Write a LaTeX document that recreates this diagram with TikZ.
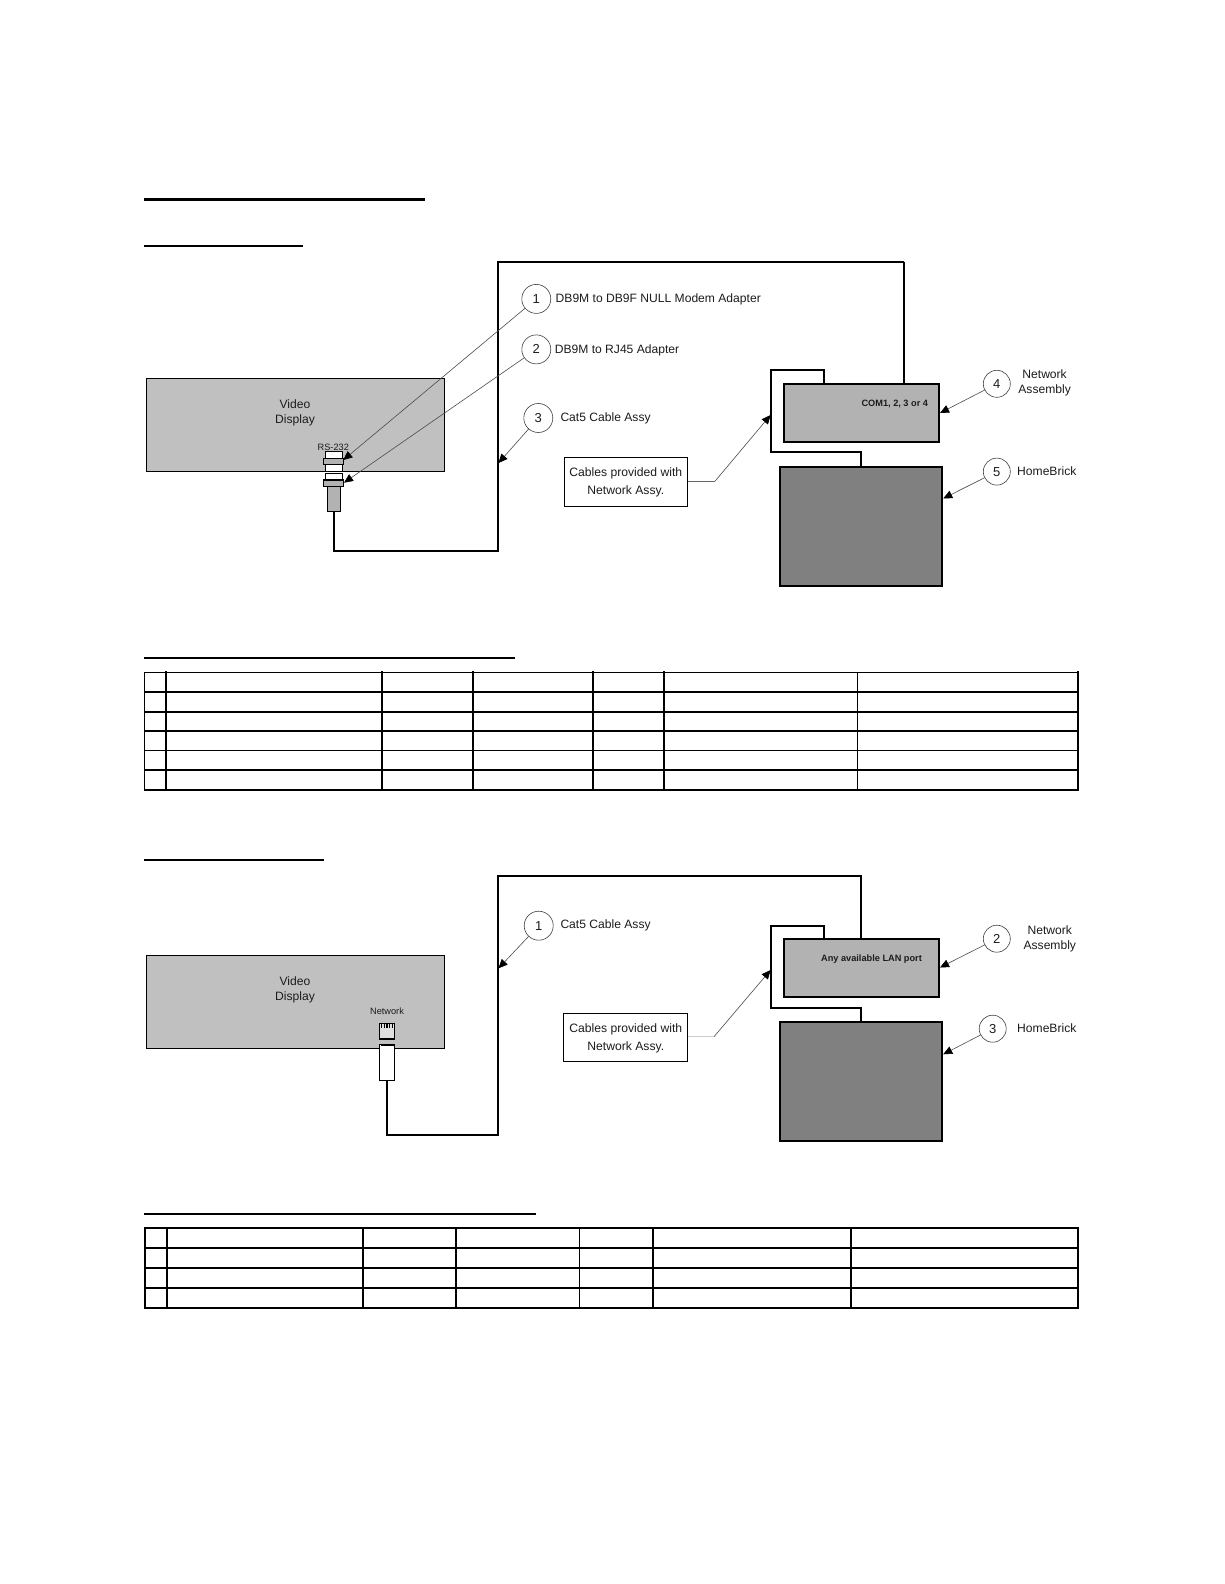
\documentclass[tikz,border=0pt]{standalone}
\usepackage{fontspec}
\setmainfont{Liberation Sans}
\usetikzlibrary{arrows.meta}
\definecolor{dispgray}{HTML}{C0C0C0}
\definecolor{netgray}{HTML}{B2B2B2}
\definecolor{brickgray}{HTML}{808080}
\definecolor{inkc}{HTML}{1C1C1C}
\tikzset{
  x=1pt,y=-1pt,
  rulestyle/.style={line width=#1,black},
  cable/.style={line width=2pt,black,line join=miter},
  thincable/.style={line width=1.2pt,black},
  display/.style={draw=black,line width=1.2pt,fill=dispgray,inner sep=0,outer sep=0},
  netbox/.style={draw=black,line width=2pt,fill=netgray,inner sep=0,outer sep=0},
  brick/.style={draw=black,line width=2pt,fill=brickgray,inner sep=0,outer sep=0},
  note/.style={draw=black,line width=1pt,fill=white,inner sep=0,outer sep=0},
  callout/.style={circle,draw=black!75,line width=.6pt,fill=white,minimum size=29pt,inner sep=0,outer sep=0,font=\fontsize{13}{15}\selectfont,text=inkc},
  lab/.style={font=\fontsize{12.1}{15}\selectfont,text=inkc,inner sep=0,align=center},
  lableft/.style={lab,anchor=west},
  small/.style={font=\fontsize{9.2}{11}\selectfont,text=inkc,inner sep=0},
  smallb/.style={font=\fontsize{9.2}{11}\bfseries\selectfont,text=inkc,inner sep=0},
  leader/.style={line width=.6pt,black!70,-{Triangle[length=9pt,width=8pt,color=black]}},
  part/.style={draw=black,line width=1.2pt,inner sep=0,outer sep=0},
  tabline/.style={line width=#1,black,line cap=rect},
}
\begin{document}
\begin{tikzpicture}
\useasboundingbox[fill=white] (0,0) rectangle (1224,1584);

% heading rules
\coordinate (r1a) at (143.5,199.5); \coordinate (r1b) at (425,199.5);
\coordinate (r2a) at (143.5,245.5); \coordinate (r2b) at (303,245.5);
\coordinate (r3a) at (144,658); \coordinate (r3b) at (515,658);
\coordinate (r4a) at (144,860); \coordinate (r4b) at (324,860);
\coordinate (r5a) at (144,1214); \coordinate (r5b) at (536,1214);
\draw[rulestyle=3pt] (r1a) -- (r1b);
\draw[rulestyle=2pt] (r2a) -- (r2b);
\draw[rulestyle=2pt] (r3a) -- (r3b);
\draw[rulestyle=2pt] (r4a) -- (r4b);
\draw[rulestyle=2pt] (r5a) -- (r5b);

%%% Diagram 1
\node[display,minimum width=297.6pt,minimum height=93pt] (disp1) at (295.5,424.8) {};
\node[lab] (disp1t) at (295,412.7) {Video\\Display};
\node[small] (rs) at (333.3,447.4) {RS-232};
\node[part,fill=white,minimum width=17pt,minimum height=19.6pt] (p1a) at (333.8,461.5) {};
\node[part,fill=netgray,minimum width=20.4pt,minimum height=6.4pt] (p1b) at (333.5,461.5) {};
\node[part,fill=white,minimum width=17pt,minimum height=7pt] (p2a) at (333.8,476.6) {};
\node[part,fill=netgray,minimum width=20.4pt,minimum height=6.6pt] (p2b) at (333.5,483.3) {};
\node[part,fill=netgray,minimum width=13.4pt,minimum height=24.6pt] (p2c) at (334,499) {};
\node[netbox,minimum width=155.5pt,minimum height=58pt] (net1) at (861.4,412.8) {};
\node[smallb] (com) at (894.8,404) {COM1, 2, 3 or 4};
\node[brick,minimum width=162.5pt,minimum height=119pt] (brick1) at (861,526.1) {};
\coordinate (c1a) at (334,551); \coordinate (c1b) at (498,261.6); \coordinate (c1c) at (903.9,261.6);
\draw[cable] (p2c.south) -- (c1a) -- (c1a -| c1b) -- (c1b) -- (c1c);
\draw[thincable] (c1c) -- (c1c |- net1.north);
\draw[cable] (824.1,383.8) -- (824.1,369.6) -- (770.6,369.6) -- (770.6,452.4) -- (861,452.4) -- (brick1.north);

\node[note,minimum width=123.2pt,minimum height=49.5pt] (cb1) at (626.1,482.2) {};
\node[lab,font=\fontsize{12.15}{18}\selectfont] (cb1t) at (625.8,482.7) {Cables provided with\\Network Assy.};
\coordinate (cb1k) at (715,481.2); \coordinate (cb1e) at (770.6,415);
\draw[line width=.6pt,black!60] (cb1.east |- cb1k) -- (cb1k);
\draw[leader] (cb1k) -- (cb1e);

\node[callout] (a1) at (536.3,298.9) {1};
\node[lableft] (a1t) at (555.5,299.2) {DB9M to DB9F NULL Modem Adapter};
\node[callout] (a2) at (536.3,349.4) {2};
\node[lableft] (a2t) at (554.6,350) {DB9M to RJ45 Adapter};
\node[callout] (a3) at (538.3,418) {3};
\node[lableft] (a3t) at (560.3,418.3) {Cat5 Cable Assy};
\node[callout,minimum size=27pt] (a4) at (996.8,383.8) {4};
\node[lab] (a4t) at (1044.6,383) {Network\\Assembly};
\node[callout,minimum size=27pt] (a5) at (996.8,471.6) {5};
\node[lableft] (a5t) at (1017,471.6) {HomeBrick};
\coordinate (t1) at (343.3,460); \coordinate (t2) at (344,482.7);
\coordinate (t3) at (498.5,463); \coordinate (t4) at (940,413);
\coordinate (t5) at (943.2,498.5);
\draw[leader] (a1) -- (t1);
\draw[leader] (a2) -- (t2);
\draw[leader] (a3) -- (t3);
\draw[leader] (a4) -- (t4);
\draw[leader] (a5) -- (t5);

%%% Table 1
\foreach \yy/\ww in {672.3/1.4pt,691.7/2pt,711.7/2pt,730.7/2pt,750.3/1.2pt,769.7/2pt,790/2.2pt}
  \draw[tabline=\ww] (144.7,\yy) -- (1078.3,\yy);
\foreach \xx/\ww in {144.7/1.4pt,165.7/2pt,382/2pt,472.7/2pt,593.3/2pt,663.7/2pt,857.3/1.2pt,1078.3/2.2pt}
  \draw[tabline=\ww] (\xx,672.3) -- (\xx,790);

%%% Diagram 2
\node[display,minimum width=297.6pt,minimum height=93pt] (disp2) at (295.5,1001.8) {};
\node[lab] (disp2t) at (295,989.4) {Video\\Display};
\node[small] (nw) at (387,1010.7) {Network};
\node[draw=black,line width=.8pt,fill=black!12,minimum width=15.4pt,minimum height=15.4pt,inner sep=0,outer sep=0] (jack) at (387,1031) {};
\foreach \px in {381.5,384.2,386.9,389.6,392.3}
  \draw[line width=1.2pt,black] (\px,1024) -- (\px,1028);
\draw[line width=1.6pt,black] (jack.south west) -- (jack.south east);
\node[part,fill=white,line width=1pt,minimum width=15.4pt,minimum height=35.3pt] (plug) at (387,1062.6) {};
\draw[line width=1.8pt,black] (380.5,1045) -- (393.5,1045);
\node[netbox,minimum width=155.5pt,minimum height=57.7pt] (net2) at (861.4,967.9) {};
\node[smallb] (lan) at (871.5,958.7) {Any available LAN port};
\node[brick,minimum width=162.5pt,minimum height=119pt] (brick2) at (861,1081.5) {};
\coordinate (c2a) at (387,1135); \coordinate (c2b) at (498.3,875.7);
\draw[cable] (plug.south) -- (c2a) -- (c2a -| c2b) -- (c2b) -- (c2b -| net2.north) -- (net2.north);
\draw[cable] (824.1,939) -- (824.1,926) -- (770.6,926) -- (770.6,1008.3) -- (861,1008.3) -- (brick2.north);

\node[note,minimum width=124.2pt,minimum height=48pt] (cb2) at (625.6,1037.3) {};
\node[lab,font=\fontsize{12.15}{18}\selectfont] (cb2t) at (625.8,1038.4) {Cables provided with\\Network Assy.};
\coordinate (cb2k) at (714,1036.7); \coordinate (cb2e) at (770.6,970);
\draw[line width=1.2pt,black!20] (cb2.east |- cb2k) -- (cb2k);
\draw[leader] (cb2k) -- (cb2e);

\node[callout] (b1) at (538.7,925.7) {1};
\node[lableft] (b1t) at (560.3,925.3) {Cat5 Cable Assy};
\node[callout,minimum size=27pt] (b2) at (996.8,938.7) {2};
\node[lab] (b2t) at (1049.8,939) {Network\\Assembly};
\node[callout,minimum size=27pt] (b3) at (992.7,1028.7) {3};
\node[lableft] (b3t) at (1017,1028.2) {HomeBrick};
\coordinate (u1) at (498.5,968.3); \coordinate (u2) at (940,967.5);
\coordinate (u3) at (943.2,1054.3);
\draw[leader] (b1) -- (u1);
\draw[leader] (b2) -- (u2);
\draw[leader] (b3) -- (u3);

%%% Table 2
\foreach \yy in {1227.7,1247.7,1267.7,1287.7,1307.7}
  \draw[tabline=2.2pt] (144.7,\yy) -- (1078.3,\yy);
\foreach \xx/\ww in {144.7/2.2pt,167/2.2pt,363.3/2.2pt,455.8/2.2pt,579.8/1.2pt,652.8/2.2pt,851/2.2pt,1078.3/2.2pt}
  \draw[tabline=\ww] (\xx,1227.7) -- (\xx,1307.7);
\end{tikzpicture}
\end{document}
